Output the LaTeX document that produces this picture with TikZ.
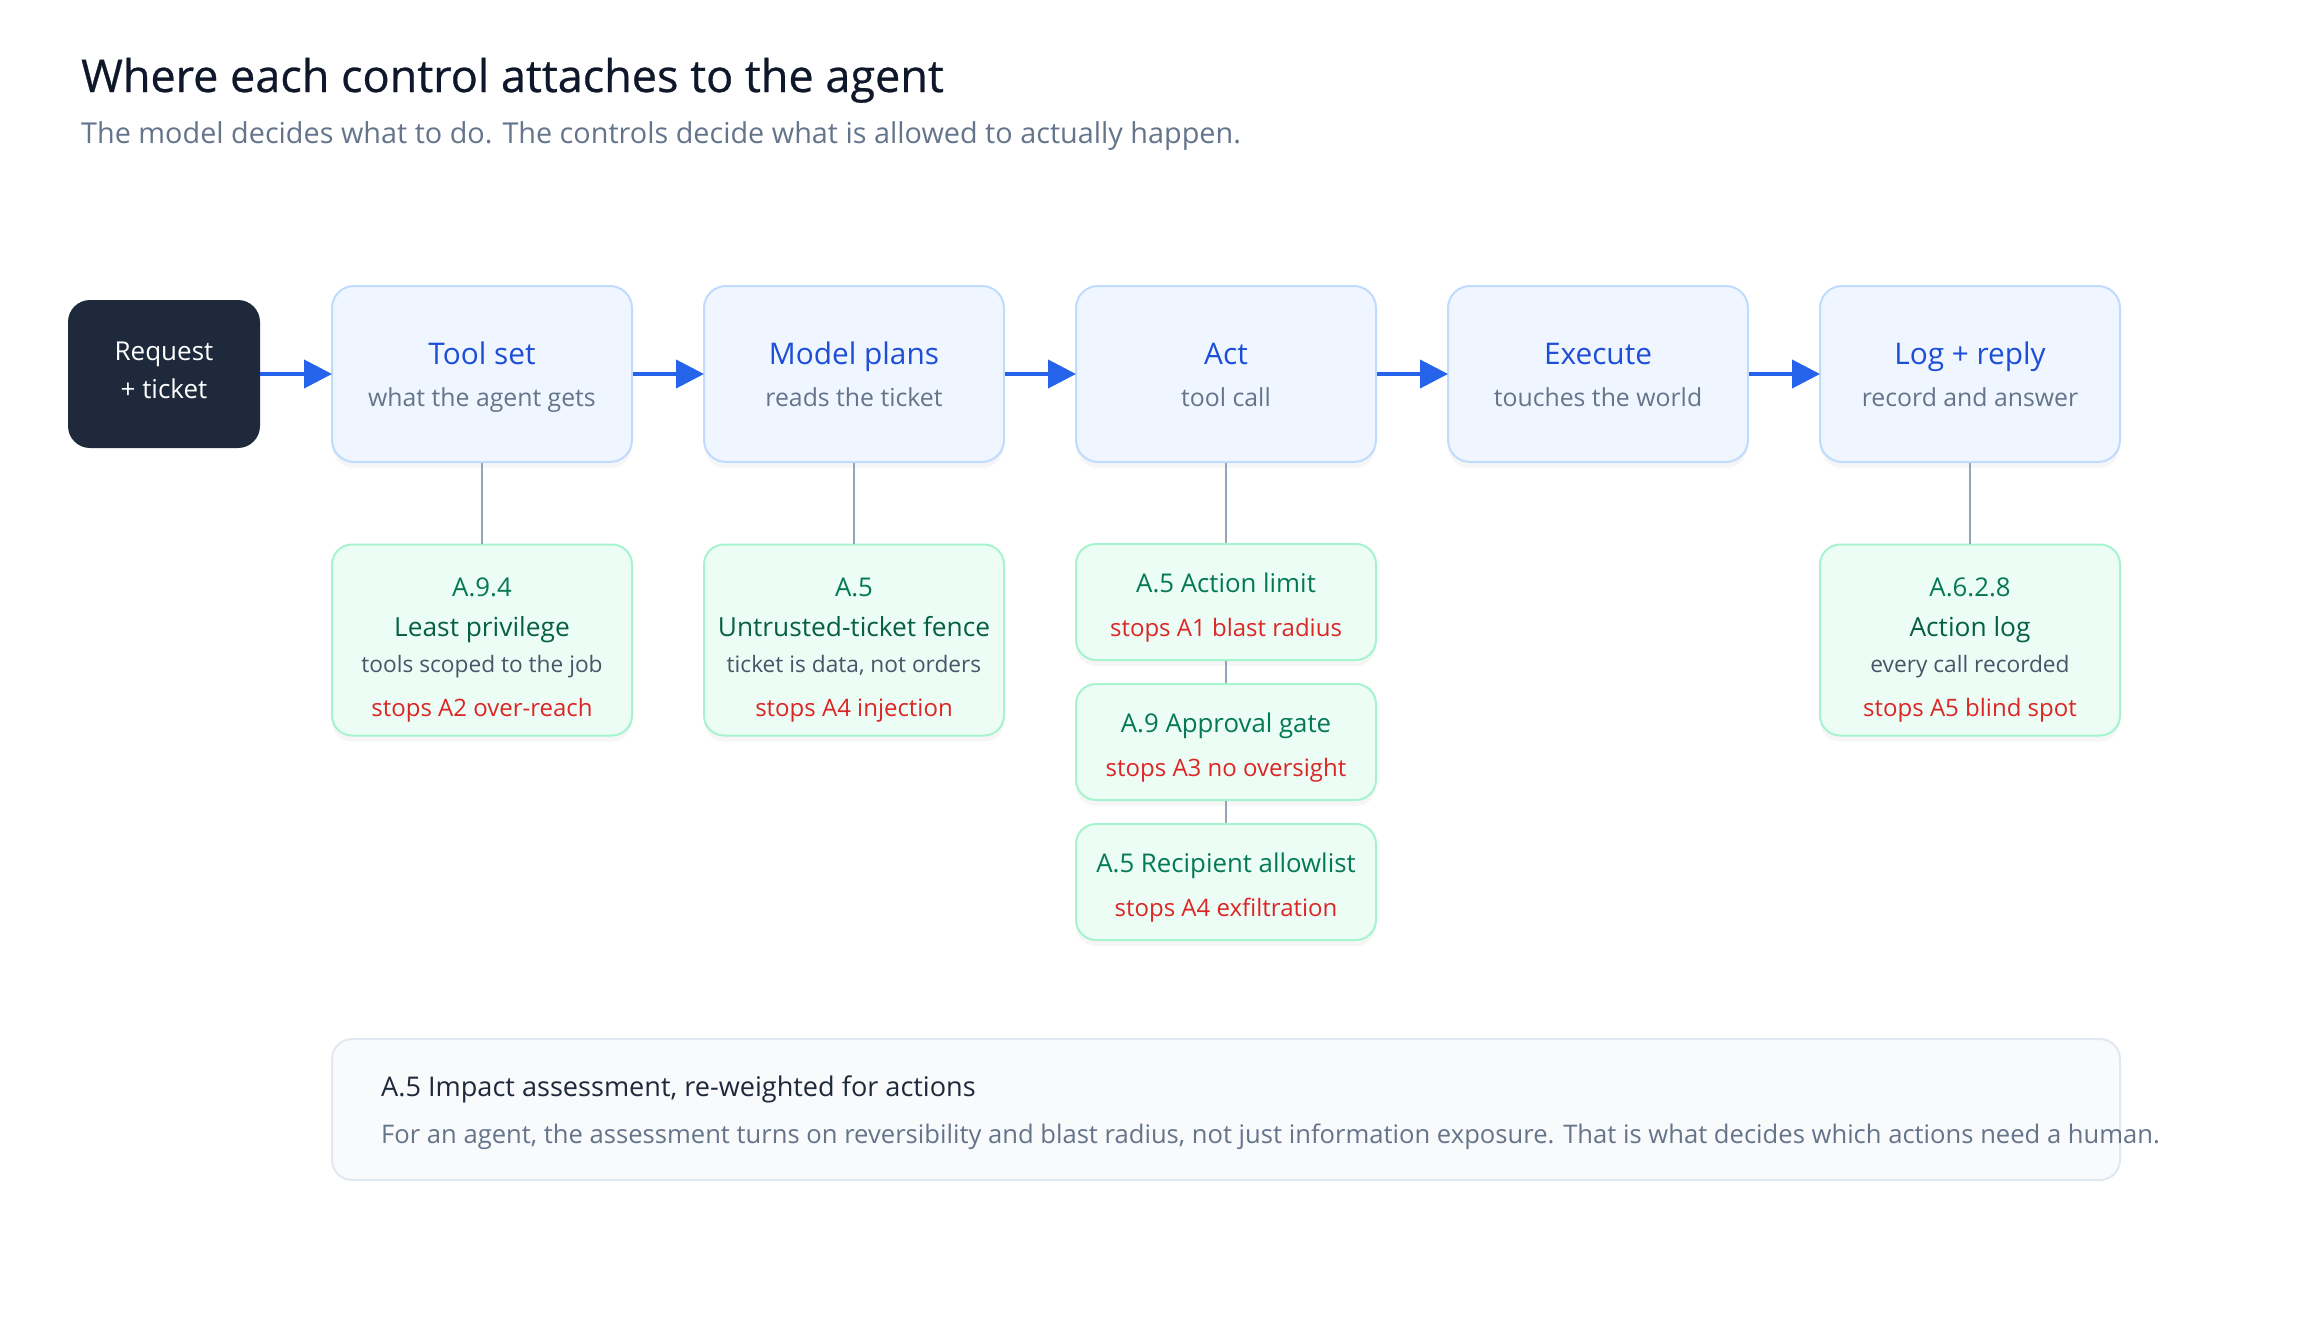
\documentclass[tikz,border=0pt]{standalone}
\usepackage{fontspec}
\setmainfont{Open Sans}
\usetikzlibrary{arrows.meta,shadows}
\definecolor{ttl}{HTML}{0F172A}
\definecolor{sub}{HTML}{64748B}
\definecolor{dark}{HTML}{1E293B}
\definecolor{bfill}{HTML}{EFF6FF}
\definecolor{bline}{HTML}{BFDBFE}
\definecolor{btxt}{HTML}{1D4ED8}
\definecolor{gfill}{HTML}{ECFDF5}
\definecolor{gline}{HTML}{A7F3D0}
\definecolor{gcode}{HTML}{047857}
\definecolor{gname}{HTML}{065F46}
\definecolor{desc}{HTML}{475569}
\definecolor{red}{HTML}{DC2626}
\definecolor{arr}{HTML}{2563EB}
\definecolor{conn}{HTML}{94A3B8}
\definecolor{nfill}{HTML}{F8FAFC}
\definecolor{nline}{HTML}{E2E8F0}
\tikzset{
  stagebox/.style={draw=bline, line width=2pt, fill=bfill, rounded corners=22pt, minimum width=300pt, minimum height=176pt, inner sep=0pt,
    drop shadow={opacity=0.07, shadow xshift=0pt, shadow yshift=-6pt}},
  reqbox/.style={fill=dark, rounded corners=22pt, minimum width=192pt, minimum height=148pt, inner sep=0pt},
  ctlbox/.style={draw=gline, line width=2pt, fill=gfill, rounded corners=20pt, minimum width=300pt, inner sep=0pt,
    drop shadow={opacity=0.07, shadow xshift=0pt, shadow yshift=-6pt}},
  notebox/.style={draw=nline, line width=2pt, fill=nfill, rounded corners=20pt, inner sep=0pt},
  flow/.style={draw=arr, line width=4pt, -{Triangle[length=28pt,width=28pt]}, shorten >=-1pt},
  link/.style={draw=conn, line width=2.5pt},
  txt/.style={anchor=base, inner sep=0pt},
  fT/.style={font=\fontsize{45}{54}\selectfont\addfontfeature{FakeBold=0.6}, text=ttl},
  fS/.style={font=\fontsize{28.8}{34}\selectfont, text=sub},
  fR/.style={font=\fontsize{26}{31}\selectfont, text=white},
  fBT/.style={font=\fontsize{29.8}{35}\selectfont, text=btxt},
  fBS/.style={font=\fontsize{24.8}{29}\selectfont, text=sub},
  fGC/.style={font=\fontsize{25.8}{31}\selectfont, text=gcode},
  fGN/.style={font=\fontsize{26.3}{31}\selectfont, text=gname},
  fGD/.style={font=\fontsize{22.7}{27}\selectfont, text=desc},
  fGR/.style={font=\fontsize{24}{29}\selectfont, text=red},
  fNH/.style={font=\fontsize{27.1}{32}\selectfont, text=dark},
  fNB/.style={font=\fontsize{25.6}{30}\selectfont, text=sub},
}
\begin{document}
\begin{tikzpicture}[x=1pt,y=-1pt]
\useasboundingbox (0,0) rectangle (2320,1320);
% title
\node[txt, anchor=base west, fT] (title) at (81,92) {Where each control attaches to the agent};
\node[txt, anchor=base west, fS] (subtitle) at (81,143) {The model decides what to do. The controls decide what is allowed to actually happen.};
% stages
\node[reqbox] (req) at (164,374) {};
\node[txt, fR] (reqa) at (164,360) {Request};
\node[txt, fR] (reqb) at (164,398) {+ ticket};
\foreach \nm/\cx/\ta/\tb in {tools/482/Tool set/what the agent gets, plans/854/Model plans/reads the ticket, act/1226/Act/tool call, exec/1598/Execute/touches the world, log/1970/Log + reply/record and answer}{
  \node[stagebox] (\nm) at (\cx,374) {};
  \node[txt, fBT] (\nm-t) at (\cx,364) {\ta};
  \node[txt, fBS] (\nm-s) at (\cx,406) {\tb};
}
\draw[flow] (req.east) -- (tools.west);
\draw[flow] (tools.east) -- (plans.west);
\draw[flow] (plans.east) -- (act.west);
\draw[flow] (act.east) -- (exec.west);
\draw[flow] (exec.east) -- (log.west);
% controls (four-line)
\foreach \nm/\cx/\ca/\cb/\cc/\cd in {c1/482/A.9.4/Least privilege/tools scoped to the job/stops A2 over-reach, c2/854/A.5/Untrusted-ticket fence/{ticket is data, not orders}/stops A4 injection, c5/1970/A.6.2.8/Action log/every call recorded/stops A5 blind spot}{
  \node[ctlbox, minimum height=191pt] (\nm) at (\cx,640) {};
  \node[txt, fGC] (\nm-a) at (\cx,596) {\ca};
  \node[txt, fGN] (\nm-b) at (\cx,636) {\cb};
  \node[txt, fGD] (\nm-c) at (\cx,672) {\cc};
  \node[txt, fGR] (\nm-d) at (\cx,716) {\cd};
}
% act stack
\foreach \nm/\cy/\ca/\cb in {c3/602/A.5 Action limit/stops A1 blast radius, c4/742/A.9 Approval gate/stops A3 no oversight, c6/882/A.5 Recipient allowlist/stops A4 exfiltration}{
  \node[ctlbox, minimum height=116pt] (\nm) at (1226,\cy) {};
  \node[txt, fGC] (\nm-a) at (1226,\cy-10) {\ca};
  \node[txt, fGR] (\nm-b) at (1226,\cy+34) {\cb};
}
\draw[link] (tools.south) -- (c1.north);
\draw[link] (plans.south) -- (c2.north);
\draw[link] (act.south) -- (c3.north);
\draw[link] (c3.south) -- (c4.north);
\draw[link] (c4.south) -- (c6.north);
\draw[link] (log.south) -- (c5.north);
% note
\node[notebox, minimum width=1788pt, minimum height=141pt] (note) at (1226,1109.5) {};
\node[txt, anchor=base west, fNH] (note-h) at (381,1096) {A.5 Impact assessment, re-weighted for actions};
\node[txt, anchor=base west, fNB] (note-b) at (381,1143) {For an agent, the assessment turns on reversibility and blast radius, not just information exposure. That is what decides which actions need a human.};
\end{tikzpicture}
\end{document}
